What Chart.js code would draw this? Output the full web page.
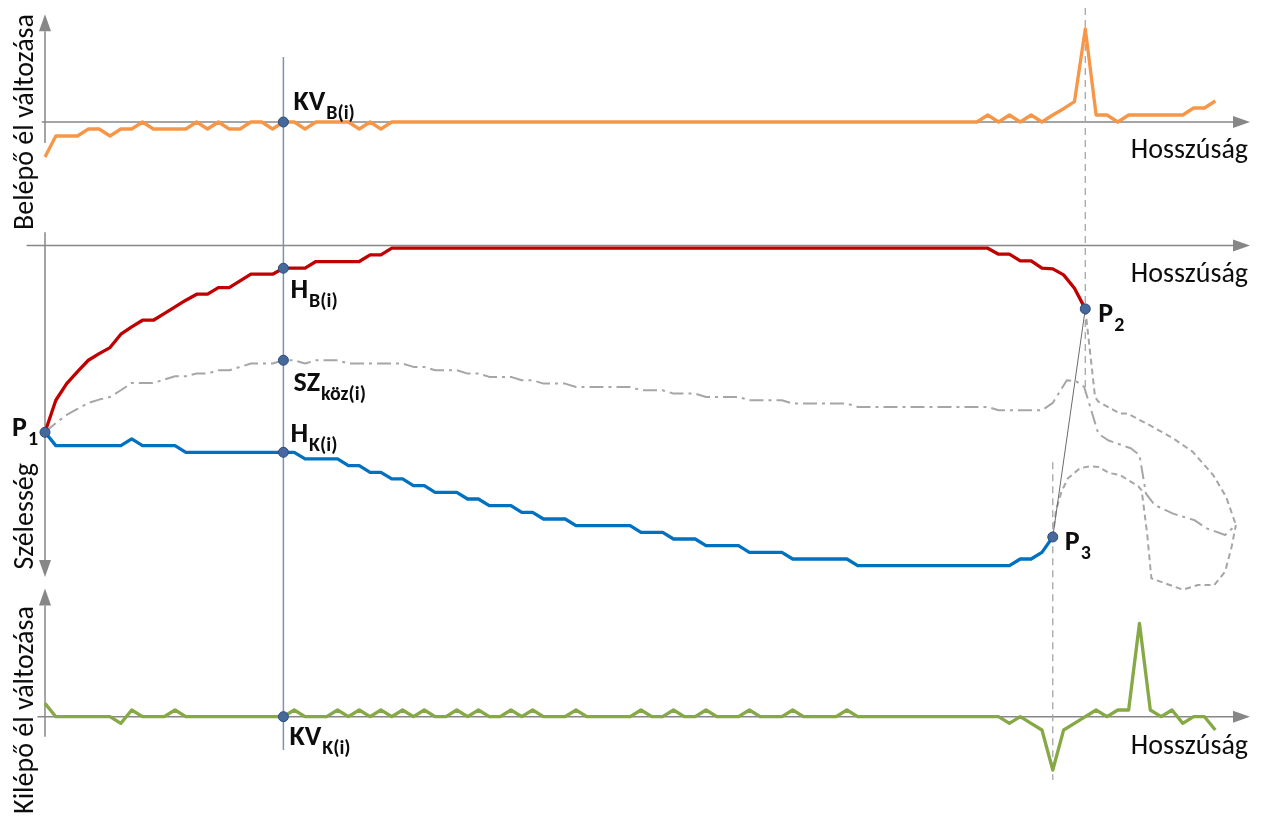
<!DOCTYPE html>
<html lang="hu">
<head>
<meta charset="utf-8">
<title>Belépő és kilépő él változása</title>
<script src="https://cdn.jsdelivr.net/npm/chart.js@4.4.1/dist/chart.umd.min.js"></script>
<style>
  html, body { margin: 0; padding: 0; background: #fff; }
  #wrap { position: relative; width: 1263px; height: 821px; }
</style>
</head>
<body>
<div id="wrap"><canvas id="chart"></canvas></div>
<script>
// Minden sorozat a hossz menti mintavétel indexén (0, 1, 2, ...) fut.
// Belépő él változása (felső sáv)
const belepoValtozas = [
  -5, -2, -2, -2, -1, -1, -2, -1, -1, 0,
  -1, -1, -1, -1, 0, -1, 0, -1, -1, 0,
  0, -1, 0, 0, -1, 0, 0, 0, 0, -1,
  0, -1, 0, 0, 0, 0, 0, 0, 0, 0,
  0, 0, 0, 0, 0, 0, 0, 0, 0, 0,
  0, 0, 0, 0, 0, 0, 0, 0, 0, 0,
  0, 0, 0, 0, 0, 0, 0, 0, 0, 0,
  0, 0, 0, 0, 0, 0, 0, 0, 0, 0,
  0, 0, 0, 0, 0, 0, 0, 1, 0, 1,
  0, 1, 0, 1, 1.9, 2.9, 13.3, 1, 1, 0,
  1, 1, 1, 1, 1, 1, 2, 2, 3
];

// Belépő oldali határ (H_B), szélesség lefelé nő
const hatarB = [
  28.0, 23.2, 20.7, 18.9, 17.2, 16.2, 15.3, 13.3, 12.2, 11.2,
  11.2, 10.2, 9.2, 8.2, 7.3, 7.3, 6.3, 6.3, 5.3, 4.3,
  4.3, 4.3, 3.4, 3.4, 3.4, 2.4, 2.4, 2.4, 2.4, 2.4,
  1.4, 1.4, 0.4, 0.4, 0.4, 0.4, 0.4, 0.4, 0.4, 0.4,
  0.4, 0.4, 0.4, 0.4, 0.4, 0.4, 0.4, 0.4, 0.4, 0.4,
  0.4, 0.4, 0.4, 0.4, 0.4, 0.4, 0.4, 0.4, 0.4, 0.4,
  0.4, 0.4, 0.4, 0.4, 0.4, 0.4, 0.4, 0.4, 0.4, 0.4,
  0.4, 0.4, 0.4, 0.4, 0.4, 0.4, 0.4, 0.4, 0.4, 0.4,
  0.4, 0.4, 0.4, 0.4, 0.4, 0.4, 0.4, 0.4, 1.3, 1.3,
  2.3, 2.3, 3.4, 3.5, 4.4, 6.4, 9.5
];

// Kilépő oldali határ (H_K)
const hatarK = [
  28, 30, 30, 30, 30, 30, 30, 30, 29, 30,
  30, 30, 30, 31, 31, 31, 31, 31, 31, 31,
  31, 31, 31, 31, 32, 32, 32, 32, 33, 33,
  34, 34, 35, 35, 36, 36, 37, 37, 37, 38,
  38, 39, 39, 39, 40, 40, 41, 41, 41, 42,
  42, 42, 42, 42, 42, 43, 43, 43, 44, 44,
  44, 45, 45, 45, 45, 46, 46, 46, 46, 47,
  47, 47, 47, 47, 47, 48, 48, 48, 48, 48,
  48, 48, 48, 48, 48, 48, 48, 48, 48, 48,
  47, 47, 46, 43.7
];

// Középvonal (SZ_köz)
const szKoz = [
  28.0, 26.6, 25.4, 24.5, 23.6, 23.1, 22.7, 21.7, 20.6, 20.6,
  20.6, 20.1, 19.6, 19.6, 19.2, 19.2, 18.7, 18.7, 18.2, 17.7,
  17.7, 17.7, 17.2, 17.2, 17.7, 17.2, 17.2, 17.2, 17.7, 17.7,
  17.7, 17.7, 17.7, 17.7, 18.2, 18.2, 18.7, 18.7, 18.7, 19.2,
  19.2, 19.7, 19.7, 19.7, 20.2, 20.2, 20.7, 20.7, 20.7, 21.2,
  21.2, 21.2, 21.2, 21.2, 21.2, 21.7, 21.7, 21.7, 22.2, 22.2,
  22.2, 22.7, 22.7, 22.7, 22.7, 23.2, 23.2, 23.2, 23.2, 23.7,
  23.7, 23.7, 23.7, 23.7, 23.7, 24.2, 24.2, 24.2, 24.2, 24.2,
  24.2, 24.2, 24.2, 24.2, 24.2, 24.2, 24.2, 24.2, 24.7, 24.7,
  24.7, 24.7, 24.7, 23.6
];

// A végek P2 / P3 után (x: mintaindex, y: szélesség)
const szKozVegX = [94.3, 95.2, 95.9, 97.2, 98.1, 100.2, 101.0, 101.6, 102.4, 104.1, 106.1, 107.2, 108.9, 109.9];
const szKozVegY = [20.2, 20.4, 21.2, 28.2, 29.2, 30.4, 31.4, 37.2, 38.9, 40.2, 41.2, 42.4, 43.4, 41.9];
const felsoVegX = [96.9, 97.2, 99.2, 99.9, 101.9, 104.1, 105.9, 107.8, 109.0, 109.9];
const felsoVegY = [22.7, 23.4, 25.2, 25.2, 26.9, 28.9, 30.9, 34.4, 37.7, 41.9];
const alsoVegX = [93.3, 93.8, 94.4, 95.5, 96.4, 97.2, 98.2, 99.2, 100.9, 101.2, 101.7, 102.1, 103.8, 105.0, 106.4, 107.9, 108.9, 109.5, 109.9];
const alsoVegY = [39.7, 36.9, 34.9, 33.4, 33.1, 33.2, 34.1, 34.4, 36.1, 36.7, 43.1, 49.9, 50.9, 51.6, 50.9, 50.9, 48.9, 45.2, 41.9];

// Kilépő él változása (alsó sáv)
const kilepoValtozas = [
  2, 0, 0, 0, 0, 0, 0, -1, 1, 0,
  0, 0, 1, 0, 0, 0, 0, 0, 0, 0,
  0, 0, 0, 1, 0, 0, 0, 1, 0, 1,
  0, 1, 0, 1, 0, 1, 0, 0, 1, 0,
  1, 0, 0, 1, 0, 1, 0, 0, 0, 1,
  0, 0, 0, 0, 0, 1, 0, 0, 1, 0,
  0, 1, 0, 0, 0, 1, 0, 0, 0, 1,
  0, 0, 0, 0, 1, 0, 0, 0, 0, 0,
  0, 0, 0, 0, 0, 0, 0, 0, 0, -1,
  0, -1, -2, -8, -2, -1, 0, 1, 0, 1,
  1, 14, 1, 0, 1, -1, 0, 0, -2
];

const KV_INDEX = 22;   // a kiemelt keresztmetszet (i)
const P2_INDEX = 96;
const P3_INDEX = 93;
const X_MAX = 111.2;

const pontok = arr => arr.map((v, i) => ({ x: i, y: v }));
const parok = (xs, ys) => xs.map((x, i) => ({ x: x, y: ys[i] }));

function vonal(label, data, axis, color, width, dash, order) {
  return {
    label: label,
    data: data,
    yAxisID: axis,
    showLine: true,
    borderColor: color,
    borderWidth: width,
    borderDash: dash || [],
    borderJoinStyle: 'round',
    pointRadius: 0,
    tension: 0,
    clip: false,
    order: order
  };
}

function jelolo(label, data, axis) {
  return {
    label: label,
    data: data,
    yAxisID: axis,
    showLine: false,
    pointRadius: 5,
    pointBackgroundColor: '#46699b',
    pointBorderColor: '#2d4b78',
    pointBorderWidth: 1,
    clip: false,
    order: 0
  };
}

const cimkek = [
  { fo: 'KV', al: 'B(i)', axis: 'yB', x: KV_INDEX, y: belepoValtozas[KV_INDEX], dx: 10, dy: -12 },
  { fo: 'H', al: 'B(i)', axis: 'yW', x: KV_INDEX, y: hatarB[KV_INDEX], dx: 7, dy: 30 },
  { fo: 'SZ', al: 'köz(i)', axis: 'yW', x: KV_INDEX, y: szKoz[KV_INDEX], dx: 10, dy: 31 },
  { fo: 'H', al: 'K(i)', axis: 'yW', x: KV_INDEX, y: hatarK[KV_INDEX], dx: 7, dy: -10 },
  { fo: 'P', al: '1', axis: 'yW', x: 0, y: hatarB[0], dx: -33, dy: 4 },
  { fo: 'P', al: '2', axis: 'yW', x: P2_INDEX, y: hatarB[P2_INDEX], dx: 13, dy: 13 },
  { fo: 'P', al: '3', axis: 'yW', x: P3_INDEX, y: hatarK[P3_INDEX], dx: 12, dy: 13 },
  { fo: 'KV', al: 'K(i)', axis: 'yK', x: KV_INDEX, y: kilepoValtozas[KV_INDEX], dx: 6, dy: 28 }
];

const FONT = 'Carlito, Lato, "Open Sans", sans-serif';

function nyil(ctx, x1, y1, x2, y2) {
  const ang = Math.atan2(y2 - y1, x2 - x1);
  const len = 17, half = 6;
  const bx = x2 - len * Math.cos(ang), by = y2 - len * Math.sin(ang);
  ctx.beginPath();
  ctx.moveTo(x1, y1);
  ctx.lineTo(bx, by);
  ctx.stroke();
  ctx.beginPath();
  ctx.moveTo(x2, y2);
  ctx.lineTo(bx + half * Math.sin(ang), by - half * Math.cos(ang));
  ctx.lineTo(bx - half * Math.sin(ang), by + half * Math.cos(ang));
  ctx.closePath();
  ctx.fill();
}

function szakasz(ctx, x1, y1, x2, y2) {
  ctx.beginPath();
  ctx.moveTo(x1, y1);
  ctx.lineTo(x2, y2);
  ctx.stroke();
}

// szöveg adott szélességre igazítva (a keskeny eredeti betűtípushoz)
function illesztettSzoveg(ctx, text, x, y, width, rotate, align) {
  const w = ctx.measureText(text).width;
  ctx.save();
  ctx.translate(x, y);
  if (rotate) ctx.rotate(-Math.PI / 2);
  ctx.scale(Math.min(1, width / w), 1);
  ctx.textAlign = align;
  ctx.fillText(text, 0, 0);
  ctx.restore();
}

const rajzolo = {
  id: 'rajzolo',
  beforeDatasetsDraw(chart) {
    const ctx = chart.ctx;
    const sx = chart.scales.x, yB = chart.scales.yB, yW = chart.scales.yW, yK = chart.scales.yK;
    const px = v => sx.getPixelForValue(v);
    ctx.save();

    // tengelyek
    ctx.strokeStyle = '#878787';
    ctx.fillStyle = '#878787';
    ctx.lineWidth = 1.5;
    nyil(ctx, px(-0.3), yB.getPixelForValue(0), px(X_MAX), yB.getPixelForValue(0));
    nyil(ctx, px(0), yB.getPixelForValue(-3), px(0), yB.getPixelForValue(15.4));
    nyil(ctx, px(-1.7), yW.getPixelForValue(0), px(X_MAX), yW.getPixelForValue(0));
    nyil(ctx, px(0), yW.getPixelForValue(-2), px(0), yW.getPixelForValue(49.7));
    nyil(ctx, px(-0.7), yK.getPixelForValue(0), px(X_MAX), yK.getPixelForValue(0));
    nyil(ctx, px(0), yK.getPixelForValue(-3), px(0), yK.getPixelForValue(19.2));

    // keresztmetszet (i)
    ctx.strokeStyle = '#8091ab';
    ctx.lineWidth = 1.5;
    szakasz(ctx, px(KV_INDEX), yB.getPixelForValue(9.3), px(KV_INDEX), yK.getPixelForValue(-5));

    // szaggatott segédvonalak P2 és P3 alatt
    ctx.strokeStyle = '#a6a6a6';
    ctx.lineWidth = 1.3;
    ctx.setLineDash([7, 5]);
    szakasz(ctx, px(P2_INDEX), yB.getPixelForValue(16.3), px(P2_INDEX), yW.getPixelForValue(22.1));
    szakasz(ctx, px(P3_INDEX), yW.getPixelForValue(32.5), px(P3_INDEX), yK.getPixelForValue(-9.5));
    ctx.restore();
  },
  afterDatasetsDraw(chart) {
    const ctx = chart.ctx;
    const sx = chart.scales.x, yB = chart.scales.yB, yW = chart.scales.yW, yK = chart.scales.yK;
    ctx.save();
    ctx.fillStyle = '#0d0d0d';
    ctx.textBaseline = 'alphabetic';

    // tengelyfeliratok
    ctx.font = '400 28px ' + FONT;
    const right = sx.getPixelForValue(X_MAX) - 2;
    illesztettSzoveg(ctx, 'Hosszúság', right, yB.getPixelForValue(0) + 36, 120, false, 'right');
    illesztettSzoveg(ctx, 'Hosszúság', right, yW.getPixelForValue(0) + 36, 120, false, 'right');
    illesztettSzoveg(ctx, 'Hosszúság', right, yK.getPixelForValue(0) + 37, 120, false, 'right');

    ctx.font = '400 28px ' + FONT;
    illesztettSzoveg(ctx, 'Belépő él változása', 33, yB.getPixelForValue(0), 223, true, 'center');
    illesztettSzoveg(ctx, 'Szélesség', 33, yW.getPixelForValue(40.6), 113, true, 'center');
    illesztettSzoveg(ctx, 'Kilépő él változása', 33, yK.getPixelForValue(1), 216, true, 'center');

    // pontfeliratok alsó indexszel
    cimkek.forEach(c => {
      const x = sx.getPixelForValue(c.x) + c.dx;
      const y = chart.scales[c.axis].getPixelForValue(c.y) + c.dy;
      ctx.textAlign = 'left';
      ctx.font = '700 28px ' + FONT;
      ctx.fillText(c.fo, x, y);
      const w = ctx.measureText(c.fo).width;
      ctx.font = '700 20px ' + FONT;
      ctx.fillText(c.al, x + w + 1, y + 9);
    });
    ctx.restore();
  }
};

Chart.defaults.font.family = FONT;

const datasets = [
  jelolo('KV_B', [{ x: KV_INDEX, y: belepoValtozas[KV_INDEX] }], 'yB'),
  jelolo('Pontok', [
    { x: 0, y: hatarB[0] },
    { x: KV_INDEX, y: hatarB[KV_INDEX] },
    { x: KV_INDEX, y: szKoz[KV_INDEX] },
    { x: KV_INDEX, y: hatarK[KV_INDEX] },
    { x: P2_INDEX, y: hatarB[P2_INDEX] },
    { x: P3_INDEX, y: hatarK[P3_INDEX] }
  ], 'yW'),
  jelolo('KV_K', [{ x: KV_INDEX, y: kilepoValtozas[KV_INDEX] }], 'yK'),
  vonal('P2-P3', [{ x: P2_INDEX, y: hatarB[P2_INDEX] }, { x: P3_INDEX, y: hatarK[P3_INDEX] }], 'yW', '#6b6b6b', 1, null, 1),
  vonal('Belépő él változása', pontok(belepoValtozas), 'yB', '#F79646', 3.3, null, 2),
  vonal('H_B', pontok(hatarB), 'yW', '#C00000', 3.3, null, 2),
  vonal('H_K', pontok(hatarK), 'yW', '#0070C0', 3.3, null, 2),
  vonal('Kilépő él változása', pontok(kilepoValtozas), 'yK', '#86A845', 3.3, null, 2),
  vonal('SZ_köz', pontok(szKoz).concat(parok(szKozVegX, szKozVegY)), 'yW', '#a6a6a6', 2, [14, 5, 3, 5], 3),
  vonal('Felső vég', [{ x: P2_INDEX, y: hatarB[P2_INDEX] }].concat(parok(felsoVegX, felsoVegY)), 'yW', '#a6a6a6', 2, [6, 4], 3),
  vonal('Alsó vég', [{ x: P3_INDEX, y: hatarK[P3_INDEX] }].concat(parok(alsoVegX, alsoVegY)), 'yW', '#a6a6a6', 2, [6, 4], 3)
];

new Chart(document.getElementById('chart'), {
  type: 'scatter',
  data: { datasets: datasets },
  options: {
    responsive: true,
    maintainAspectRatio: false,
    animation: false,
    events: [],
    layout: { autoPadding: false, padding: { left: 45, right: 13, top: 0, bottom: 0 } },
    plugins: { legend: { display: false }, tooltip: { enabled: false } },
    scales: {
      x: { type: 'linear', min: 0, max: X_MAX, display: false },
      yB: { type: 'linear', min: -99.86, max: 17.43, display: false },
      yW: { type: 'linear', min: -36.81, max: 86.28, reverse: true, display: false },
      yK: { type: 'linear', min: -15.64, max: 107.45, display: false }
    }
  },
  plugins: [rajzolo]
});
</script>
</body>
</html>
